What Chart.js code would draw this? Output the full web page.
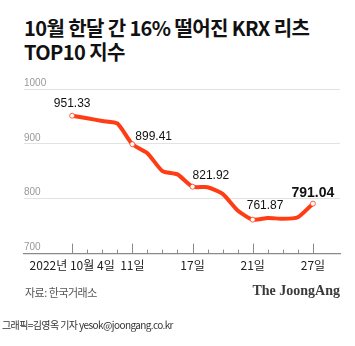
<!DOCTYPE html>
<html>
<head>
<meta charset="utf-8">
<script src="https://cdn.jsdelivr.net/npm/chart.js@4.4.0/dist/chart.umd.min.js"></script>
<style>
body { margin:0; background:#fff; width:355px; height:346px; overflow:hidden; position:relative; font-family:"Noto Sans CJK KR", "Noto Sans", sans-serif; }
#title { position:absolute; left:24px; top:16px; font-size:20px; font-weight:700; line-height:24px; letter-spacing:-0.6px; color:#111; }
#chart { position:absolute; left:0; top:0; }
#src { position:absolute; left:25px; top:284px; font-size:11px; color:#555; letter-spacing:-0.5px; }
#logo { position:absolute; right:15px; top:283px; font-family:"Liberation Serif", "DejaVu Serif", serif; font-weight:bold; font-size:14px; color:#3a3a3a; }
#credit { position:absolute; left:2px; top:317px; font-size:10px; color:#333; letter-spacing:-0.6px; }
</style>
</head>
<body>
<div id="title">10월 한달 간 16% 떨어진 KRX 리츠<br>TOP10 지수</div>
<canvas id="chart" width="355" height="346"></canvas>
<div id="src">자료: 한국거래소</div>
<div id="logo">The JoongAng</div>
<div id="credit">그래픽=김영옥 기자 yesok@joongang.co.kr</div>
<script>
// 2022년 10월 거래일
var days = ['4','5','6','7','11','12','13','14','17','18','19','20','21','24','25','26','27'];
var values = [951.33, 946.6, 941.7, 937.2, 899.41, 883.0, 850.5, 844.4, 821.92, 821.0, 809.0, 778.6, 761.87, 765.0, 763.4, 766.4, 791.04];
var majorIdx = [0, 4, 8, 12, 16];
var xTickLabels = ['2022년 10월 4일', '11일', '17일', '21일', '27일'];
var yTicks = [700, 800, 900, 1000];

// value label placement (dx, dy, align, bold)
var labelPos = {
  0: [0, -12, 'center', false],
  4: [3, -8, 'left', false],
  8: [0, -11, 'left', false],
  12: [-6, -14, 'left', false],
  16: [0, -11, 'center', true]
};

var red = '#ff3d14';

var tickMarks = {
  id: 'tickMarks',
  afterDatasetsDraw: function(chart) {
    var ctx = chart.ctx, xs = chart.scales.x, bottom = chart.chartArea.bottom;
    ctx.save();
    ctx.strokeStyle = '#8a8a8a';
    ctx.lineWidth = 1;
    for (var i = 0; i < days.length; i++) {
      var x = Math.round(xs.getPixelForValue(i)) + 0.5;
      var len = majorIdx.indexOf(i) >= 0 ? 10 : 4;
      ctx.beginPath();
      ctx.moveTo(x, bottom);
      ctx.lineTo(x, bottom - len);
      ctx.stroke();
    }
    ctx.restore();
  },
  afterDraw: function(chart) {
    var ctx = chart.ctx;
    var meta = chart.getDatasetMeta(0);
    ctx.save();
    ctx.fillStyle = '#111';
    ctx.textBaseline = 'middle';
    Object.keys(labelPos).forEach(function(k) {
      var p = meta.data[k], o = labelPos[k];
      ctx.font = o[3] ? 'bold 14px "Liberation Sans", Arial, sans-serif' : '12px "Liberation Sans", Arial, sans-serif';
      ctx.textAlign = o[2];
      ctx.fillText(values[k].toFixed(2), p.x + o[0], p.y + o[1]);
    });
    ctx.restore();
  }
};

var ctx = document.getElementById('chart').getContext('2d');
var myChart = new Chart(ctx, {
  type: 'line',
  data: {
    datasets: [{
      data: values.map(function(v, i) { return { x: i, y: v }; }),
      borderColor: red,
      borderWidth: 4,
      tension: 0.2,
      borderJoinStyle: 'round',
      borderCapStyle: 'round',
      pointRadius: values.map(function(v, i) { return majorIdx.indexOf(i) >= 0 ? 2.5 : 0; }),
      pointBackgroundColor: '#fff',
      pointBorderColor: red,
      pointBorderWidth: 0.8
    }]
  },
  options: {
    responsive: false,
    animation: false,
    layout: { padding: { left: 24, right: 15, top: 89, bottom: 68 } },
    plugins: { legend: { display: false }, tooltip: { enabled: false } },
    scales: {
      x: {
        type: 'linear',
        min: -3.2,
        max: 17.8,
        afterBuildTicks: function(scale) {
          scale.ticks = majorIdx.map(function(i) { return { value: i }; });
        },
        ticks: {
          autoSkip: false,
          maxRotation: 0,
          padding: 5,
          color: '#222',
          font: { family: '"Noto Sans CJK KR"', size: 12 },
          callback: function(v) { return xTickLabels[majorIdx.indexOf(v)]; }
        },
        grid: { display: false, drawTicks: false },
        border: { display: true, color: '#8a8a8a', width: 1.2 }
      },
      y: {
        min: 700,
        max: 1000,
        afterBuildTicks: function(scale) {
          scale.ticks = yTicks.map(function(v) { return { value: v }; });
        },
        ticks: {
          mirror: true,
          padding: 0,
          labelOffset: -6,
          color: '#999',
          font: { family: '"Liberation Sans", Arial', size: 10 },
          callback: function(v) { return String(v); }
        },
        grid: { color: '#e2e2e2', drawTicks: false, lineWidth: 1 },
        border: { display: false }
      }
    }
  },
  plugins: [tickMarks]
});
</script>
</body>
</html>
